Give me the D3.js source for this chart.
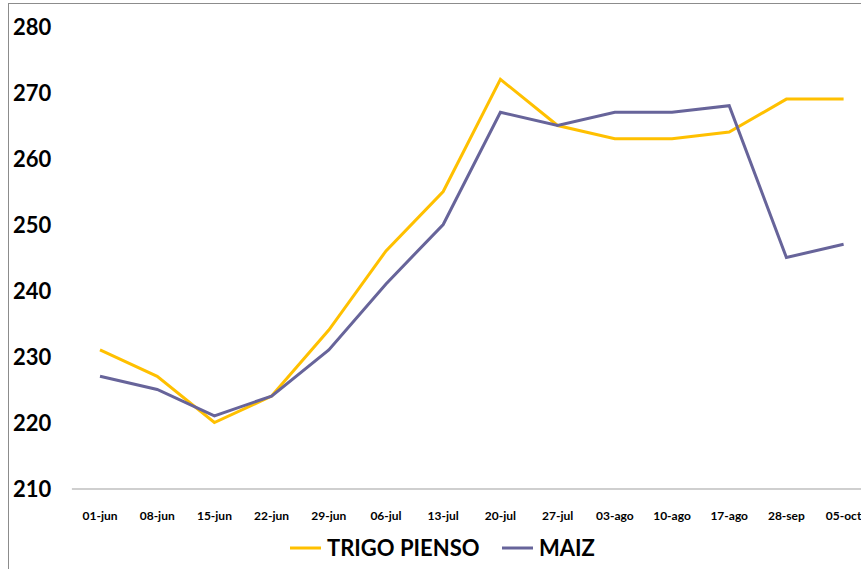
<!DOCTYPE html>
<html>
<head>
<meta charset="utf-8">
<script src="https://cdn.jsdelivr.net/npm/d3@7/dist/d3.min.js"></script>
<style>
  html, body { margin: 0; padding: 0; background: #fff; }
  svg { display: block; }
</style>
</head>
<body>
<svg id="chart" width="861" height="569"></svg>
<script>
// Weekly prices, June to October
const categories = ["01-jun","08-jun","15-jun","22-jun","29-jun","06-jul","13-jul","20-jul","27-jul","03-ago","10-ago","17-ago","28-sep","05-oct"];
const trigoPienso = [231, 227, 220, 224, 234, 246, 255, 272, 265, 263, 263, 264, 269, 269];
const maiz        = [227, 225, 221, 224, 231, 241, 250, 267, 265, 267, 267, 268, 245, 247];
const yTicks = [210, 220, 230, 240, 250, 260, 270, 280];

const series = [
  { name: "TRIGO PIENSO", values: trigoPienso, color: "#FFC000" },
  { name: "MAIZ", values: maiz, color: "#67649A" }
];

const svg = d3.select("#chart");
const font = "Lato, 'Open Sans', sans-serif";

// outer frame of the chart area
svg.append("rect")
  .attr("x", 8.5).attr("y", 3.5)
  .attr("width", 900).attr("height", 700)
  .attr("fill", "none").attr("stroke", "#8c8c8c").attr("stroke-width", 1);

const plotLeft = 71.4, bandW = 57.2;
const x = d3.scaleBand()
  .domain(categories)
  .range([plotLeft, plotLeft + bandW * categories.length]);

const y = d3.scaleLinear().domain([210, 280]).range([488.5, 26.5]);

// y axis labels (no axis line)
const yAxis = svg.append("g")
  .attr("transform", "translate(52,0)")
  .call(d3.axisLeft(y).tickValues(yTicks).tickSize(0).tickPadding(0));
yAxis.select(".domain").remove();
yAxis.selectAll("text")
  .attr("x", -39).attr("text-anchor", "start").attr("dy", "0.36em")
  .attr("font-family", font).attr("font-weight", 700).attr("font-size", 22)
  .attr("fill", "#000");

// x axis
const xAxis = svg.append("g")
  .attr("transform", `translate(0,${y(210)})`)
  .call(d3.axisBottom(x).tickSize(0).tickPadding(23));
xAxis.select(".domain").attr("stroke", "#bfbfbf").attr("stroke-width", 1.5);
xAxis.selectAll("text")
  .attr("font-family", font).attr("font-weight", 700).attr("font-size", 12)
  .attr("fill", "#000");

// series lines
const line = d3.line()
  .x((d, i) => x(categories[i]) + x.bandwidth() / 2)
  .y(d => y(d));

svg.append("g").selectAll("path")
  .data(series)
  .join("path")
  .attr("d", s => line(s.values))
  .attr("fill", "none")
  .attr("stroke", s => s.color)
  .attr("stroke-width", 3)
  .attr("stroke-linejoin", "miter")
  .attr("stroke-linecap", "butt");

// legend
const legendPos = [290, 502];
const legend = svg.append("g").selectAll("g")
  .data(series)
  .join("g")
  .attr("transform", (s, i) => `translate(${legendPos[i]},548)`);
legend.append("line")
  .attr("x1", 0).attr("x2", 31).attr("y1", 0).attr("y2", 0)
  .attr("stroke", s => s.color).attr("stroke-width", 3);
legend.append("text")
  .attr("x", 37).attr("y", 0).attr("dy", "0.36em")
  .attr("font-family", font).attr("font-weight", 700).attr("font-size", 22)
  .attr("fill", "#000")
  .text(s => s.name);
</script>
</body>
</html>
